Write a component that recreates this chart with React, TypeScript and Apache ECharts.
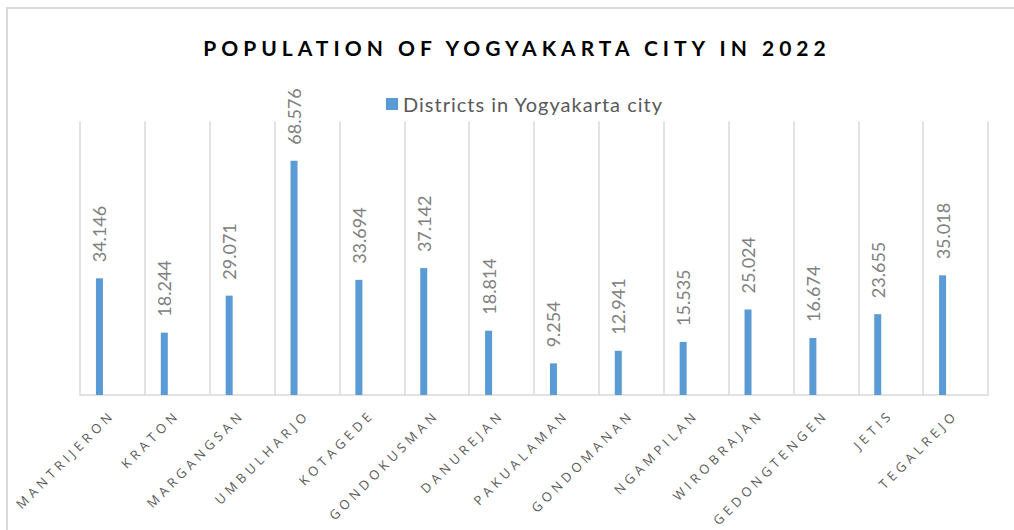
import React, { useEffect, useRef } from "react";
import * as echarts from "echarts";

const TITLE = "POPULATION OF YOGYAKARTA CITY IN 2022";
const SERIES_NAME = "Districts in Yogyakarta city";
const districts = [
  "MANTRIJERON",
  "KRATON",
  "MARGANGSAN",
  "UMBULHARJO",
  "KOTAGEDE",
  "GONDOKUSMAN",
  "DANUREJAN",
  "PAKUALAMAN",
  "GONDOMANAN",
  "NGAMPILAN",
  "WIROBRAJAN",
  "GEDONGTENGEN",
  "JETIS",
  "TEGALREJO",
];
const population = [
  34.146, 18.244, 29.071, 68.576, 33.694, 37.142, 18.814, 9.254, 12.941,
  15.535, 25.024, 16.674, 23.655, 35.018,
];
const emptySeries = districts.map(() => null);

export default function App() {
  const ref = useRef<HTMLDivElement>(null);
  useEffect(() => {
    if (!ref.current) return;
    const chart = echarts.init(ref.current, null, { renderer: "svg" });
    chart.setOption({
      animation: false,
      backgroundColor: "#ffffff",
      legend: {
        data: [SERIES_NAME],
        left: 381,
        top: 89,
        itemWidth: 12,
        itemHeight: 12,
        itemGap: 6,
        icon: "rect",
        textStyle: {
          fontFamily: "Lato",
          fontSize: 20,
          color: "#595959",
        },
      },
      graphic: [
        {
          type: "rect",
          shape: { x: 7, y: 8, width: 1020, height: 540 },
          style: { fill: "none", stroke: "#d9d9d9", lineWidth: 2 },
          silent: true,
          z: -10,
        },
        {
          type: "text",
          x: 517,
          y: 47,
          silent: true,
          style: {
            text: TITLE,
            textAlign: "center",
            textVerticalAlign: "middle",
            fontFamily: "Lato",
            fontWeight: "bold",
            fontSize: 21,
            fill: "#000000",
          },
        },
      ],
      grid: { left: 80, right: 26, top: 121.6, bottom: 135 },
      xAxis: {
        type: "category",
        data: districts,
        boundaryGap: true,
        axisLine: { show: true, lineStyle: { color: "#d9d9d9", width: 1.5 } },
        axisTick: { show: false },
        splitLine: { show: true, lineStyle: { color: "#d9d9d9", width: 1.5 } },
        axisLabel: {
          interval: 0,
          rotate: 45,
          margin: 17,
          fontFamily: "Open Sans",
          fontSize: 13,
          color: "#595959",
        },
      },
      yAxis: {
        type: "value",
        min: 0,
        max: 80,
        show: false,
        splitLine: { show: false },
      },
      series: [
        {
          name: SERIES_NAME,
          type: "bar",
          data: population,
          barWidth: 7,
          barGap: "271%",
          itemStyle: { color: "#5b9bd5" },
          label: {
            show: true,
            position: "top",
            rotate: 90,
            align: "left",
            verticalAlign: "middle",
            distance: 16,
            fontFamily: "Lato",
            fontSize: 18,
            color: "#808080",
            formatter: (p: any) => p.value.toFixed(3),
          },
        },
        {
          name: "spacer",
          type: "bar",
          data: emptySeries,
          barWidth: 7,
          itemStyle: { color: "transparent" },
          silent: true,
        },
      ],
    });
    const applySpacing = () => {
      const texts = ref.current?.querySelectorAll("text") || [];
      texts.forEach((t: any) => {
        const s = (t.textContent || "").trim();
        if (s === TITLE) t.style.letterSpacing = "5px";
        else if (districts.includes(s)) t.style.letterSpacing = "4.2px";
        else if (s === SERIES_NAME) t.style.letterSpacing = "1px";
      });
    };
    applySpacing();
    chart.on("finished", applySpacing);
    return () => chart.dispose();
  }, []);
  return (
    <div
      ref={ref}
      style={{ position: "fixed", left: 0, top: 0, width: 1014, height: 530 }}
    />
  );
}
